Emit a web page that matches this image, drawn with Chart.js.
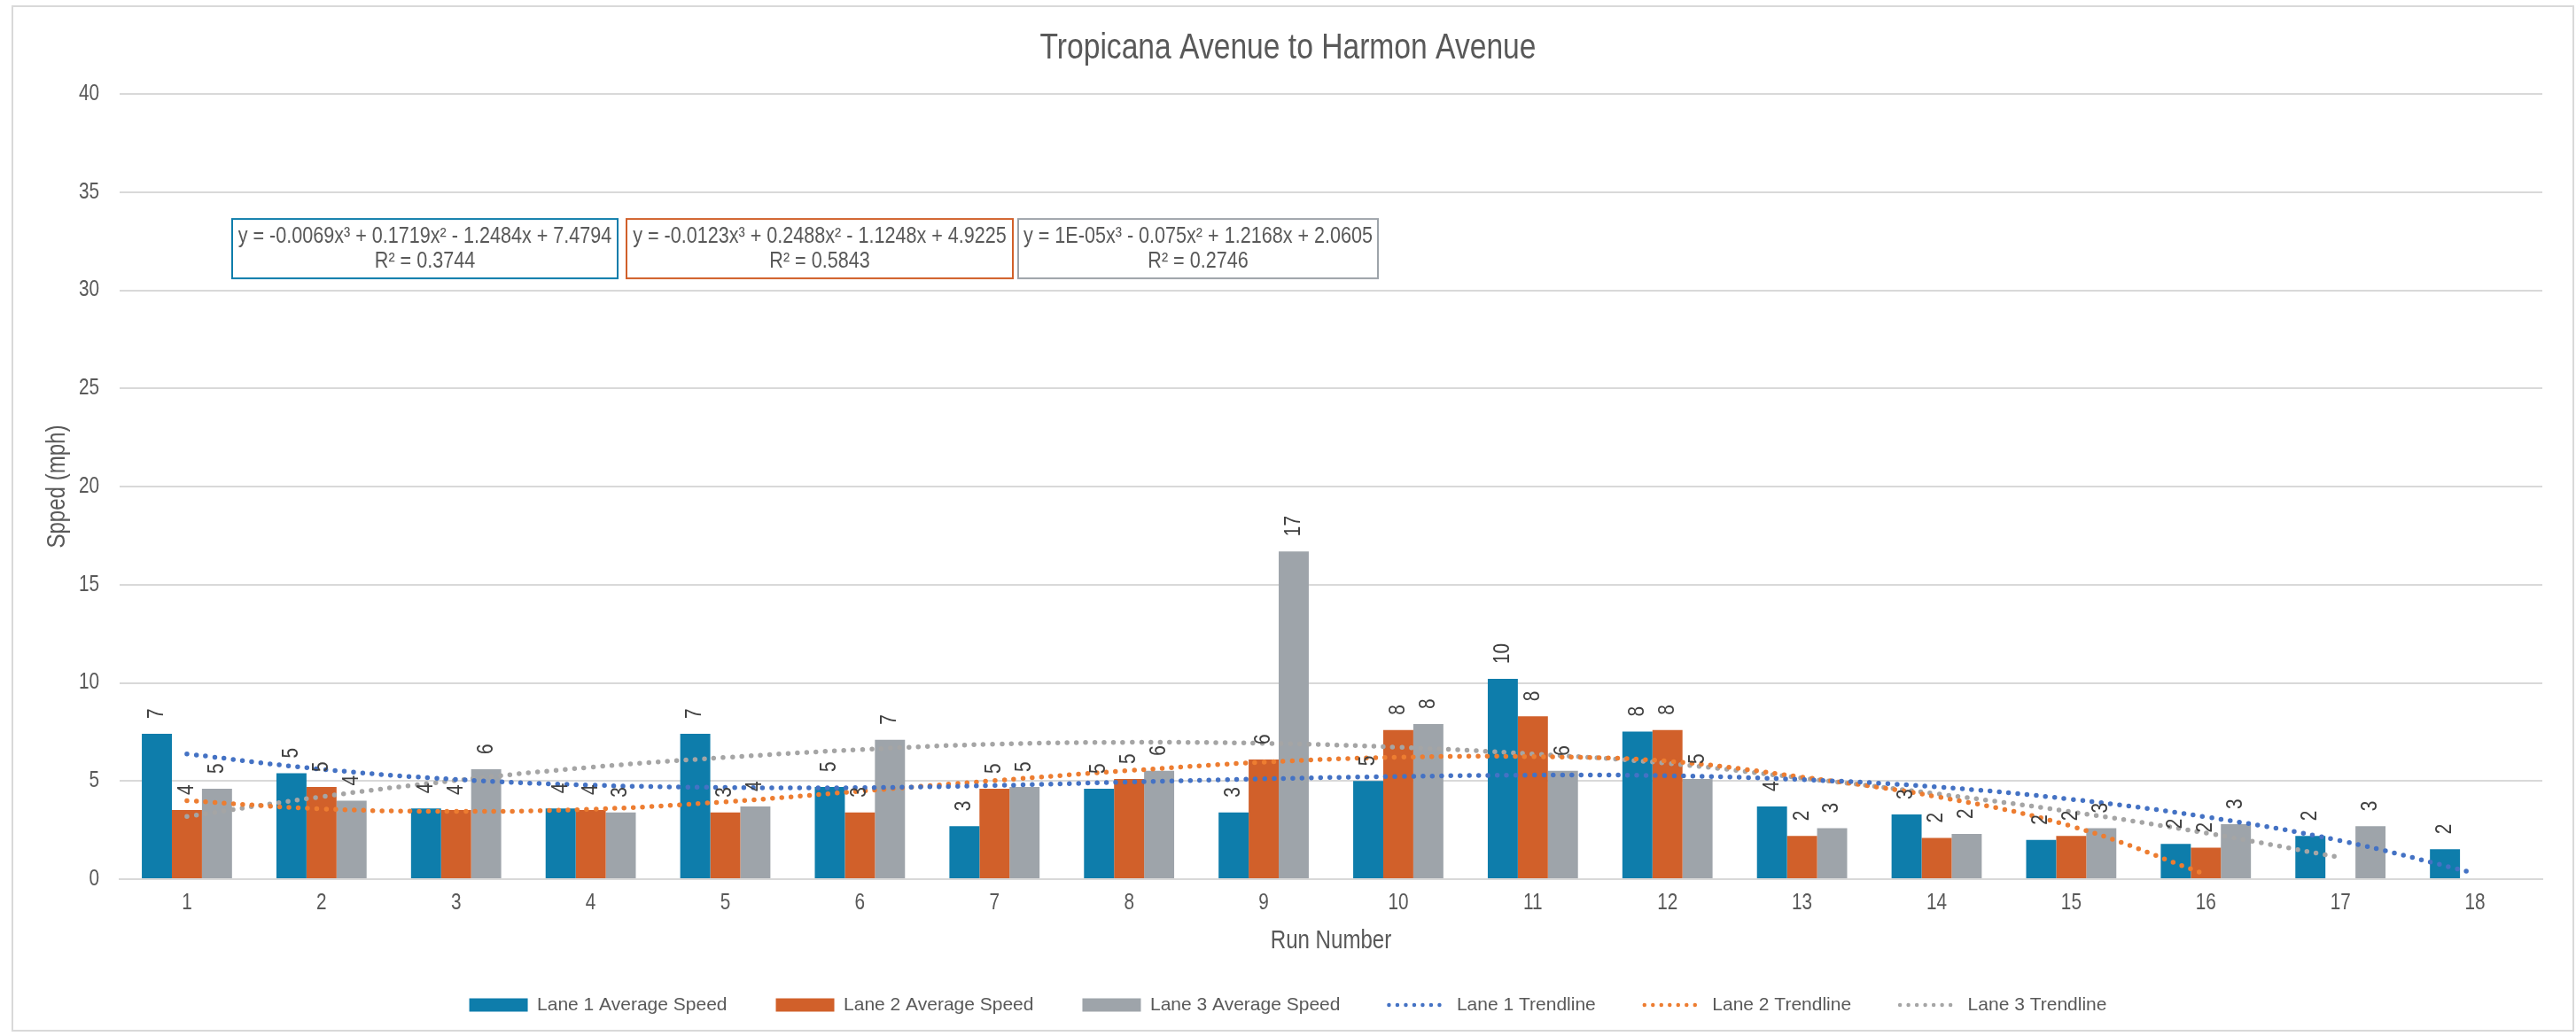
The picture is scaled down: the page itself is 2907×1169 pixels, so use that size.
<!DOCTYPE html>
<html>
<head>
<meta charset="utf-8">
<script src="https://cdn.jsdelivr.net/npm/chart.js@4.4.1/dist/chart.umd.min.js"></script>
<style>
  body { margin: 0; background: #fff; }
  #wrap { width: 2907px; height: 1169px; position: relative; }
</style>
</head>
<body>
<div id="wrap"><canvas id="myChart"></canvas></div>
<script>
// run numbers on the x axis
const runs = ['1', '2', '3', '4', '5', '6', '7', '8', '9', '10', '11', '12', '13', '14', '15', '16', '17', '18'];

// average speed per lane (mph)
const lane1 = [7.4, 5.4, 3.6, 3.6, 7.4, 4.7, 2.7, 4.6, 3.4, 5.0, 10.2, 7.52, 3.7, 3.3, 2.0, 1.8, 2.2, 1.52];
const lane2 = [3.52, 4.7, 3.52, 3.52, 3.4, 3.4, 4.6, 5.1, 6.1, 7.6, 8.3, 7.6, 2.2, 2.1, 2.2, 1.6, null, null];
const lane3 = [4.6, 4.0, 5.6, 3.4, 3.7, 7.1, 4.7, 5.52, 16.7, 7.9, 5.52, 5.1, 2.6, 2.3, 2.6, 2.8, 2.7, null];

// trendline values
const trend1 = [6.38, 5.6, 5.08, 4.79, 4.67, 4.66, 4.77, 4.95, 5.11, 5.23, 5.3, 5.27, 5.07, 4.7, 4.07, 3.17, 1.96, 0.3];
const trend2 = [4.0, 3.58, 3.45, 3.56, 3.94, 4.48, 5.02, 5.53, 5.96, 6.21, 6.24, 6.01, 5.2, 4.2, 2.7, 0.24, null, null];
const trend3 = [3.19, 4.2, 5.03, 5.7, 6.2, 6.6, 6.88, 6.97, 6.92, 6.72, 6.38, 5.9, 5.15, 4.35, 3.43, 2.35, 1.1, null];

// trendline equation boxes
const eqLines = [
  ['y = -0.0069x³ + 0.1719x² - 1.2484x + 7.4794', 'R² = 0.3744'],
  ['y = -0.0123x³ + 0.2488x² - 1.1248x + 4.9225', 'R² = 0.5843'],
  ['y = 1E-05x³ - 0.075x² + 1.2168x + 2.0605', 'R² = 0.2746']
];

const FONT = "'Liberation Sans', Arial, sans-serif";
const LEGEND_FONT = "Arimo, 'Liberation Sans', sans-serif"; // legend is not condensed
const TXT = '#595959';
const barColors = ['#0E7DAB', '#D1602A', '#9EA4AA'];
const lineColors = ['#4472C4', '#ED7D31', '#A5A5A5'];

function barSet(label, data, color) {
  return { type: 'bar', label: label, data: data, backgroundColor: color, order: 1,
    categoryPercentage: 0.67, barPercentage: 1.0 };
}
function trendSet(label, data, color) {
  return { type: 'line', label: label, data: data, borderColor: color, backgroundColor: color,
    borderWidth: 5.5, borderDash: [0, 10.5], borderCapStyle: 'round', pointRadius: 0,
    tension: 0.4, fill: false, order: 0 };
}

// rotated value labels above the bars
const barLabels = {
  id: 'barLabels',
  afterDatasetsDraw(chart) {
    const ctx = chart.ctx;
    chart.data.datasets.forEach((ds, i) => {
      if (ds.type !== 'bar') return;
      chart.getDatasetMeta(i).data.forEach((bar, j) => {
        const v = ds.data[j];
        if (v == null) return;
        ctx.save();
        ctx.translate(bar.x, bar.y - 17);
        ctx.rotate(-Math.PI / 2);
        ctx.font = '25px ' + FONT;
        ctx.fillStyle = '#404040';
        ctx.textAlign = 'left';
        ctx.textBaseline = 'middle';
        ctx.fillText(String(Math.round(v)), 0, 0);
        ctx.restore();
      });
    });
  }
};

// chart border and the equation boxes
const extras = {
  id: 'extras',
  afterDraw(chart) {
    const ctx = chart.ctx;
    const a = chart.chartArea;
    ctx.save();
    ctx.strokeStyle = '#D9D9D9';
    ctx.lineWidth = 2;
    ctx.strokeRect(14, 7, 2890, 1156);
    const boxes = [[a.left + 127, 435], [a.left + 572, 436], [a.left + 1014, 406]];
    boxes.forEach((b, i) => {
      const top = a.top + 141;
      ctx.strokeStyle = barColors[i];
      ctx.lineWidth = 2;
      ctx.fillStyle = '#fff';
      ctx.fillRect(b[0], top, b[1], 67);
      ctx.strokeRect(b[0], top, b[1], 67);
      ctx.fillStyle = TXT;
      ctx.font = '26px ' + FONT;
      ctx.textAlign = 'center';
      ctx.textBaseline = 'middle';
      ctx.fillText(eqLines[i][0], b[0] + b[1] / 2, top + 20);
      ctx.fillText(eqLines[i][1], b[0] + b[1] / 2, top + 48);
    });
    ctx.restore();
  }
};

const ctx = document.getElementById('myChart').getContext('2d');

// the original uses a narrow typeface; squeeze text horizontally to match it
const NARROW = 0.83;
const rawFill = ctx.fillText.bind(ctx);
const rawMeasure = ctx.measureText.bind(ctx);
function squeeze() { return ctx.font.indexOf('Arimo') >= 0 ? 1 : NARROW; }
ctx.fillText = function (text, x, y, maxWidth) {
  const k = squeeze();
  ctx.save();
  ctx.translate(x, y);
  ctx.scale(k, 1);
  if (maxWidth === undefined) rawFill(text, 0, 0);
  else rawFill(text, 0, 0, maxWidth / k);
  ctx.restore();
};
ctx.measureText = function (text) {
  const k = squeeze();
  const m = rawMeasure(text);
  return {
    width: m.width * k,
    actualBoundingBoxLeft: m.actualBoundingBoxLeft * k,
    actualBoundingBoxRight: m.actualBoundingBoxRight * k,
    actualBoundingBoxAscent: m.actualBoundingBoxAscent,
    actualBoundingBoxDescent: m.actualBoundingBoxDescent,
    fontBoundingBoxAscent: m.fontBoundingBoxAscent,
    fontBoundingBoxDescent: m.fontBoundingBoxDescent
  };
};

new Chart(ctx, {
  data: {
    labels: runs,
    datasets: [
      barSet('Lane 1 Average Speed', lane1, barColors[0]),
      barSet('Lane 2 Average Speed', lane2, barColors[1]),
      barSet('Lane 3 Average Speed', lane3, barColors[2]),
      trendSet('Lane 1 Trendline', trend1, lineColors[0]),
      trendSet('Lane 2 Trendline', trend2, lineColors[1]),
      trendSet('Lane 3 Trendline', trend3, lineColors[2])
    ]
  },
  options: {
    responsive: true,
    maintainAspectRatio: false,
    animation: false,
    layout: { padding: { left: 38, right: 38, top: 0, bottom: 14.5 } },
    plugins: {
      title: {
        display: true,
        text: 'Tropicana Avenue to Harmon Avenue',
        color: TXT,
        font: { family: FONT, size: 40.5, weight: 'normal' },
        padding: { top: 30.5, bottom: 27 }
      },
      legend: {
        position: 'bottom',
        labels: {
          color: TXT,
          font: { family: LEGEND_FONT, size: 21 },
          usePointStyle: true,
          pointStyleWidth: 66,
          boxHeight: 15,
          padding: 55,
          generateLabels(chart) {
            return chart.data.datasets.map((ds, i) => {
              const isBar = ds.type === 'bar';
              return {
                text: ds.label,
                datasetIndex: i,
                fillStyle: ds.backgroundColor,
                strokeStyle: isBar ? ds.backgroundColor : ds.borderColor,
                lineWidth: isBar ? 0 : 4.5,
                lineDash: isBar ? [] : [0, 9.5],
                lineCap: 'round',
                pointStyle: isBar ? 'rect' : 'line',
                fontColor: TXT,
                hidden: false
              };
            });
          }
        }
      },
      tooltip: { enabled: false }
    },
    scales: {
      x: {
        grid: { display: false, drawTicks: false },
        border: { color: '#D9D9D9', width: 2 },
        ticks: { color: TXT, font: { family: FONT, size: 25 }, padding: 12 },
        title: { display: true, text: 'Run Number', color: TXT,
          font: { family: FONT, size: 29 }, padding: { top: 0, bottom: -10.6 } },
        afterFit(scale) { scale.height = 76.5; }
      },
      y: {
        min: 0,
        max: 40,
        ticks: { stepSize: 5, color: TXT, font: { family: FONT, size: 25 }, padding: 23 },
        grid: { color: '#D9D9D9', lineWidth: 2, drawTicks: false },
        border: { display: false },
        title: { display: true, text: 'Spped (mph)', color: TXT,
          font: { family: FONT, size: 29 }, padding: { top: 10, bottom: 0 } },
        afterFit(scale) { scale.width = 97; }
      }
    }
  },
  plugins: [barLabels, extras]
});
</script>
</body>
</html>
